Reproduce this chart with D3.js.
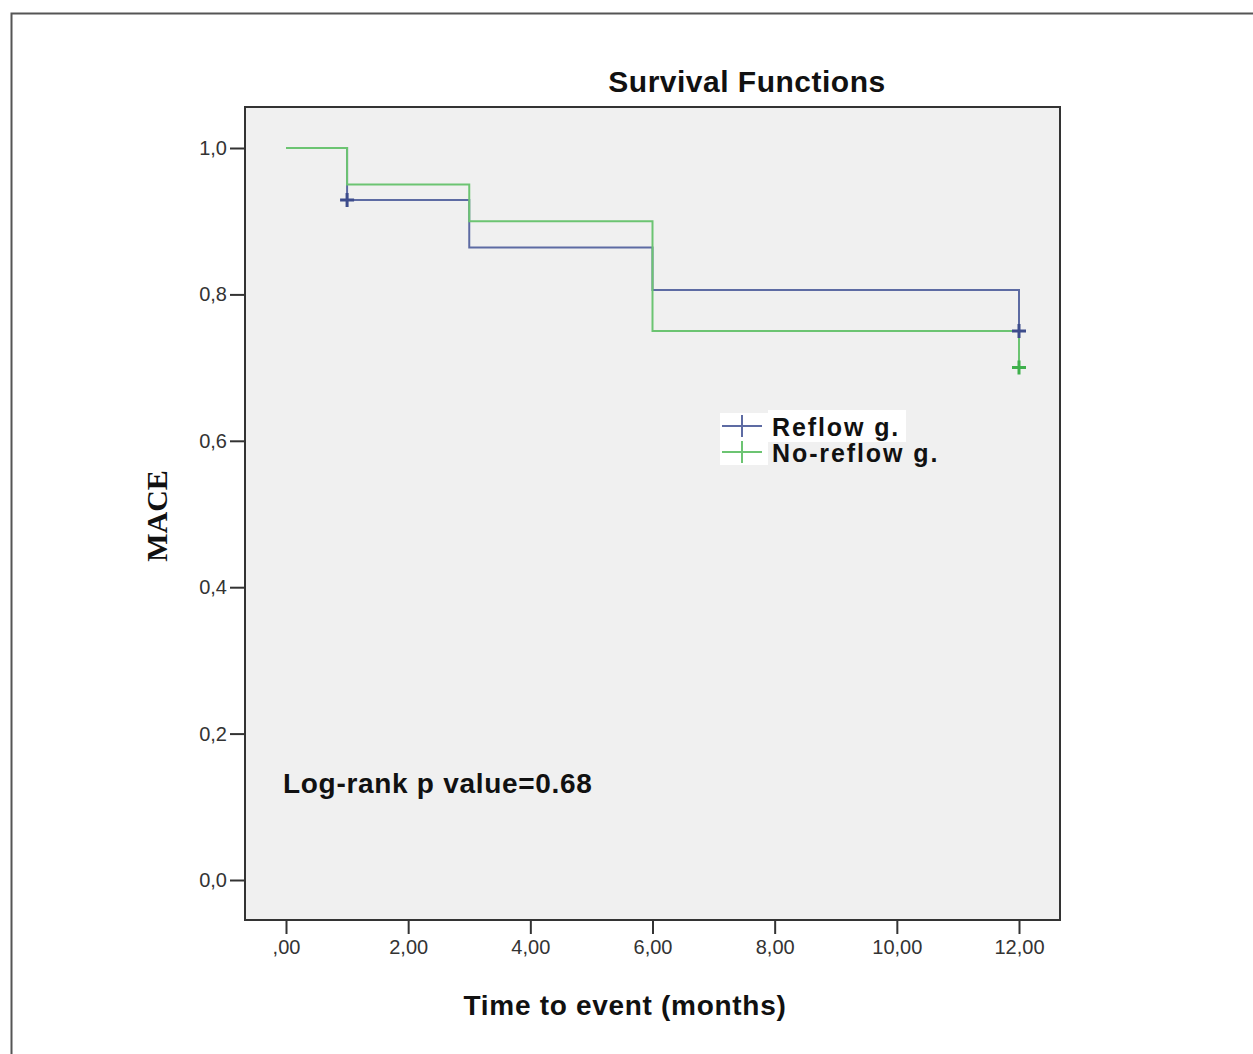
<!DOCTYPE html>
<html>
<head>
<meta charset="utf-8">
<script src="https://cdn.jsdelivr.net/npm/d3@7"></script>
<style>
  body { margin: 0; background: #fff; }
  text { font-family: Arial, "Liberation Sans", sans-serif; }
</style>
</head>
<body>
<svg id="chart" width="1253" height="1054"></svg>
<script>
// Donnees (courbes de Kaplan-Meier).
const xTicks = [0, 2, 4, 6, 8, 10, 12];
const yTicks = [0, 0.2, 0.4, 0.6, 0.8, 1.0];

const reflowTimes = [0, 1, 3, 6, 12];
const reflowSurv = [1.0, 0.929, 0.864, 0.806, 0.75];
const reflowCensor = [[1, 0.929], [12, 0.75]];

const noReflowTimes = [0, 1, 3, 6, 12];
const noReflowSurv = [1.0, 0.95, 0.90, 0.75, 0.70];
const noReflowCensor = [[12, 0.70]];

const blue = "#5d6ba3";
const green = "#6cc472";

const svg = d3.select("#chart");

// Cadre exterieur (seulement haut et gauche visibles).
svg.append("path")
    .attr("d", "M11.5,1054 V13.5 H1253")
    .attr("fill", "none")
    .attr("stroke", "#555")
    .attr("stroke-width", 2);

const frame = { left: 245, top: 107, right: 1060, bottom: 920 };

const x = d3.scaleLinear().domain([0, 12]).range([286, 1019]);
const y = d3.scaleLinear().domain([0, 1]).range([880, 148]);

svg.append("rect")
    .attr("x", frame.left)
    .attr("y", frame.top)
    .attr("width", frame.right - frame.left)
    .attr("height", frame.bottom - frame.top)
    .attr("fill", "#f0f0f0")
    .attr("stroke", "#333")
    .attr("stroke-width", 2);

// Axe Y
const yAxis = d3.axisLeft(y)
    .tickValues(yTicks)
    .tickSize(15)
    .tickPadding(3)
    .tickFormat(function(d) { return d3.format(".1f")(d).replace(".", ","); });

const gy = svg.append("g")
    .attr("transform", "translate(" + frame.left + ",0)")
    .call(yAxis);
gy.select(".domain").remove();
gy.selectAll("line").attr("stroke", "#333").attr("stroke-width", 2);
gy.selectAll("text").attr("font-size", 20).attr("fill", "#333");

// Axe X
const xAxis = d3.axisBottom(x)
    .tickValues(xTicks)
    .tickSize(14)
    .tickPadding(6)
    .tickFormat(function(d) { return d3.format(".2f")(d).replace(".", ",").replace(/^0/, ""); });

const gx = svg.append("g")
    .attr("transform", "translate(0," + frame.bottom + ")")
    .call(xAxis);
gx.select(".domain").remove();
gx.selectAll("line").attr("stroke", "#333").attr("stroke-width", 2);
gx.selectAll("text").attr("font-size", 20).attr("fill", "#333");

// Courbes en escalier
function stepPoints(times, surv) {
    return times.map(function(t, i) { return [t, surv[i]]; });
}

const stepLine = d3.line()
    .x(function(d) { return x(d[0]); })
    .y(function(d) { return y(d[1]); })
    .curve(d3.curveStepAfter);

function drawCurve(times, surv, color) {
    svg.append("path")
        .attr("d", stepLine(stepPoints(times, surv)))
        .attr("fill", "none")
        .attr("stroke", color)
        .attr("stroke-width", 2);
}

// Marques de censure dessinees apres les deux courbes.
function drawCensor(censor, markColor) {
    censor.forEach(function(c) {
        const cx = x(c[0]), cy = y(c[1]);
        svg.append("path")
            .attr("d", "M" + (cx - 7) + "," + cy + " H" + (cx + 7) + " M" + cx + "," + (cy - 7) + " V" + (cy + 7))
            .attr("stroke", markColor)
            .attr("stroke-width", 3);
    });
}

drawCurve(reflowTimes, reflowSurv, blue);
drawCurve(noReflowTimes, noReflowSurv, green);
drawCensor(reflowCensor, "#3d4c8c");
drawCensor(noReflowCensor, "#3fb04c");

// Legende
const legend = svg.append("g");
legend.append("rect")
    .attr("x", 720).attr("y", 413).attr("width", 48).attr("height", 52)
    .attr("fill", "#fff");
legend.append("rect")
    .attr("x", 768).attr("y", 410).attr("width", 138).attr("height", 32)
    .attr("fill", "#fff");

const legendItems = [
    { label: "Reflow g.", color: blue, y: 426, base: 436 },
    { label: "No-reflow g.", color: green, y: 452, base: 462 }
];

legendItems.forEach(function(item) {
    legend.append("path")
        .attr("d", "M722," + item.y + " H762 M742," + (item.y - 11) + " V" + (item.y + 11))
        .attr("stroke", item.color)
        .attr("stroke-width", 2);
    legend.append("text")
        .attr("x", 772)
        .attr("y", item.base)
        .attr("font-size", 25)
        .attr("font-weight", "bold")
        .attr("letter-spacing", 1.9)
        .attr("fill", "#111")
        .text(item.label);
});

// Titres
svg.append("text")
    .attr("x", 747).attr("y", 92)
    .attr("text-anchor", "middle")
    .attr("font-size", 30)
    .attr("font-weight", "bold")
    .attr("letter-spacing", 0.5)
    .attr("fill", "#111")
    .text("Survival Functions");

svg.append("text")
    .attr("x", 625).attr("y", 1015)
    .attr("text-anchor", "middle")
    .attr("font-size", 28)
    .attr("font-weight", "bold")
    .attr("letter-spacing", 0.7)
    .attr("fill", "#111")
    .text("Time to event (months)");

svg.append("text")
    .attr("transform", "translate(167,516) rotate(-90)")
    .attr("text-anchor", "middle")
    .style("font-family", "'Liberation Serif', 'DejaVu Serif', serif")
    .attr("font-size", 30)
    .attr("font-weight", "bold")
    .attr("fill", "#111")
    .text("MACE");

svg.append("text")
    .attr("x", 283).attr("y", 793)
    .attr("font-size", 28)
    .attr("font-weight", "bold")
    .attr("letter-spacing", 0.7)
    .attr("fill", "#111")
    .text("Log-rank p value=0.68");
</script>
</body>
</html>
